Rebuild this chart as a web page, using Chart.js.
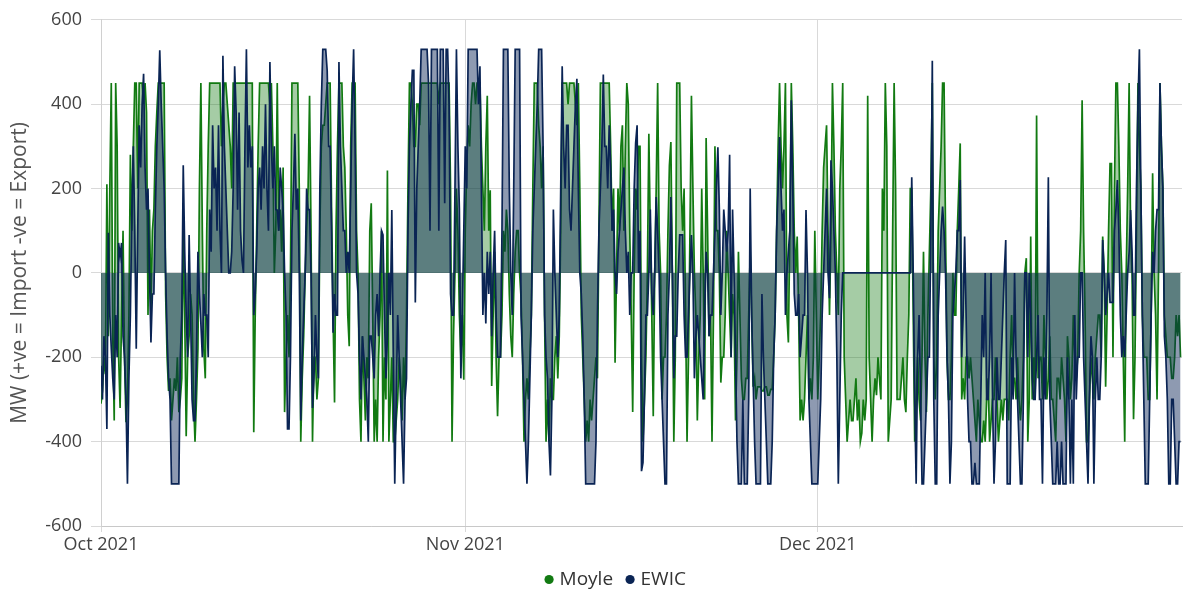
<!DOCTYPE html>
<html>
<head>
<meta charset="utf-8">
<script src="https://cdn.jsdelivr.net/npm/chart.js@4.4.1/dist/chart.umd.min.js"></script>
<style>
  html, body { margin: 0; padding: 0; background: #ffffff; }
  #wrap { width: 1186px; height: 594px; position: relative; }
</style>
</head>
<body>
<div id="wrap"><canvas id="flows" width="1186" height="594"></canvas></div>
<script>
// Interconnector flows in MW, eight readings per day (3-hourly) from 1 Oct 2021 00:00
const stepsPerDay = 8;
const monthTicks = [0, 31, 61];               // day offsets of the month starts
const monthLabels = ['Oct 2021', 'Nov 2021', 'Dec 2021'];
const yTicks = [-600, -400, -200, 0, 200, 400, 600];

// Moyle, one line per day
const moyleOct = [
  -310,-280,-200,-240,210,-150,200,450,
  -150,-350,450,300,-200,-320,-100,100,
  -200,-354,-300,-100,280,100,300,450,
  450,200,450,450,450,400,450,380,
  -100,150,-87,100,150,300,380,450,
  450,450,450,450,-50,-200,-280,-250,
  -350,-300,-250,-280,-200,-330,-300,-250,
  100,-100,-387,-200,-150,-50,-100,-300,
  -400,-300,-180,200,450,100,-180,-250,
  100,300,450,450,450,450,450,450,
  450,450,300,400,450,450,400,350,
  300,200,450,450,450,450,450,450,
  450,450,450,450,450,450,450,450,
  -378,-100,100,300,450,450,450,450,
  450,450,450,400,450,300,0,100,
  450,100,150,50,250,-330,-200,-100,
  -200,0,450,450,450,450,450,200,
  -400,-250,-150,0,100,200,420,100,
  -400,-200,-200,-300,-250,100,300,350,
  350,400,450,450,450,150,-100,-307,
  100,300,450,450,450,300,250,100,
  -100,-174,300,450,450,450,100,0,
  -300,-400,-150,-250,-350,-200,-250,100,
  165,-100,-400,-300,-400,-200,-100,100,
  -400,-200,-300,243,-400,-300,-200,-400,
  -400,-350,-300,-200,-250,-350,-200,-300,
  -100,200,450,450,400,300,300,400,
  400,350,450,450,450,450,450,450,
  450,450,450,450,450,450,400,450,
  450,450,450,450,450,450,200,-400,
  -150,0,200,100,-100,-200,-100,-253
];
const moyleNov = [
  100,250,350,300,400,450,450,400,
  450,450,450,300,200,100,300,420,
  100,196,-268,-100,50,-200,-340,-200,
  -200,-100,100,50,150,100,-50,-150,
  -200,-50,50,100,100,0,-60,-200,
  -400,-300,-250,-300,-200,-100,200,450,
  450,450,350,300,200,300,-100,-400,
  -300,-400,-250,-300,-300,-200,-150,-250,
  -150,100,450,450,450,450,400,450,
  450,450,450,400,350,450,200,-100,
  -200,-300,-400,-350,-400,-300,-350,-300,
  -250,-200,-250,100,450,450,450,450,
  450,450,450,300,100,200,-213,0,
  200,100,300,350,100,300,450,400,
  100,-100,-330,0,200,150,300,300,
  -200,-400,-300,-200,0,330,100,-100,
  -340,0,200,450,100,0,-300,-200,
  -200,-100,100,255,310,0,-400,-200,
  450,450,450,200,100,200,-100,-400,
  -200,100,420,200,0,-100,-350,-200,
  -100,200,0,-300,320,100,-150,-100,
  -400,-100,300,100,100,0,-260,-200,
  -200,-100,100,0,-100,-200,-50,-100,
  -350,-200,50,-100,-250,-300,-300,-250,
  -250,-100,50,-100,-270,-250,-300,-270,
  -270,-270,-280,-280,-270,-270,-290,-290,
  -276,-276,-200,-100,100,300,450,300,
  200,300,450,-100,-165,100,450,300,
  100,0,86,-100,-350,-300,-350,-300,
  -200,-100,-300,-250,-300,-200,100,-100
];
const moyleDec = [
  -300,-200,-100,100,250,300,350,100,
  -100,100,450,300,100,0,-100,200,
  300,450,-200,-300,-400,-350,-300,-350,
  -350,-300,-250,-350,-300,-400,-380,-300,
  -350,-300,420,-200,-300,-400,-300,-250,
  -290,-200,-250,-300,200,100,450,300,
  -400,-350,-300,100,450,200,-300,-300,
  -300,-250,-200,-300,-330,-200,-100,200,
  200,-100,-400,-300,-200,-300,-350,-200,
  50,-200,-330,-100,50,200,450,-200,
  -300,-200,100,200,300,450,450,100,
  -200,-300,-300,-200,0,-100,-100,100,
  200,307,-300,-250,-300,-200,-200,-250,
  -200,-250,-300,-350,-400,-300,-350,-400,
  -400,-350,-400,-300,-250,-400,-350,-300,
  -300,-200,-300,-400,-350,-300,-350,-300,
  -300,-300,-350,-200,-100,-250,-250,-300,
  -200,-300,-350,-300,-200,0,35,-400,
  -300,86,-300,-200,-300,373,-250,-200,
  -200,-300,-100,-200,-300,-250,-150,-300,
  -300,-350,-400,-250,-250,-300,-200,-250,
  -300,-400,-150,-200,-300,-250,-100,-200,
  -250,-200,0,100,409,100,-100,-400,
  -400,-300,-200,-250,-300,-200,-150,-100,
  -100,-200,86,0,-270,-100,100,259,
  259,-200,200,450,450,300,100,0,
  -200,-400,0,200,450,100,0,-347,
  -200,100,450,300,200,-100,-200,-200,
  -200,-300,-300,-100,236,0,-100,-300,
  0,450,300,200,-100,-150,-200,-200,
  -200,-250,-250,-200,-100,-150,-100,-200
];

// EWIC, one line per day
const ewicOct = [
  -220,-300,-150,-200,-370,95,-100,-180,
  -250,-300,-100,-200,71,40,71,-150,
  -200,-300,-500,-250,-100,150,300,100,
  -180,100,350,250,400,472,250,150,
  200,0,-165,-50,-50,150,300,400,
  528,400,300,200,0,-150,-250,-300,
  -500,-500,-500,-500,-500,-500,-200,-100,
  255,50,-100,-200,90,-100,-300,-350,
  -350,-200,50,-50,-120,-200,-50,-100,
  -100,-200,150,50,350,200,250,100,
  350,100,0,515,300,200,100,0,
  0,50,200,490,380,150,380,100,
  30,0,300,530,250,350,250,300,
  -100,-50,50,200,250,150,300,200,
  400,200,100,500,300,200,300,150,
  149,100,250,200,150,0,-100,-370,
  -370,-200,100,200,330,150,200,0,
  -350,-200,-100,0,200,150,150,0,
  -320,-250,-100,-200,-250,200,400,530,
  530,530,480,300,300,100,-142,-50,
  -100,-100,500,300,200,100,100,0,
  50,0,200,400,530,300,0,-50,
  -200,-300,-150,-200,-250,-300,-400,-150,
  -150,-200,-250,-100,-50,-150,0,100,
  90,-100,-250,-150,0,-100,149,-200,
  -500,-300,-100,-200,-300,-400,-500,-300,
  -250,100,300,400,480,480,-70,200,
  300,400,530,530,530,530,530,450,
  100,530,530,530,530,530,100,530,
  530,530,165,530,530,400,-50,-100,
  -100,200,530,300,150,-250,-100,100
];
const ewicNov = [
  300,200,530,530,530,530,530,530,
  530,400,490,200,-100,0,-120,50,
  -50,50,-150,0,100,-100,-200,-200,
  -200,100,530,530,530,530,200,0,
  -100,200,530,530,530,530,-100,-200,
  -300,-400,-500,-400,-250,-100,100,200,
  300,400,530,530,530,300,-100,-200,
  -250,-400,-480,-300,150,0,-100,-200,
  -100,200,490,300,200,350,350,150,
  100,200,300,400,460,200,0,-50,
  -150,-300,-500,-500,-500,-500,-500,-500,
  -500,-400,-100,100,200,300,470,300,
  300,200,350,250,100,150,0,-50,
  50,100,150,200,250,100,0,50,
  -100,0,0,200,307,350,0,100,
  -470,-450,-300,-100,-100,0,150,-50,
  -100,0,180,100,0,-200,-300,-400,
  -500,-500,-100,0,180,0,-250,-150,
  -150,0,90,90,90,-100,-200,-200,
  -100,0,90,0,-250,-150,-100,-150,
  -200,-250,-300,-100,50,0,-150,-100,
  -100,0,100,200,298,150,-100,0,
  150,100,50,100,280,-200,150,0,
  -200,-400,-500,-500,-500,-300,-500,-500,
  -500,-300,200,-100,-250,-400,-500,-500,
  -500,-500,-50,-200,-300,-400,-500,-500,
  -500,-400,-200,-100,100,200,322,200,
  100,150,-100,0,50,100,409,200,
  -50,-100,-100,-50,-200,-150,-100,-100,
  149,0,-300,-400,-500,-500,-500,-500
];
const ewicDec = [
  -500,-400,-300,-100,0,100,200,0,
  -60,267,200,100,0,-200,-500,-300,
  -100,0,0,0,0,0,0,0,
  0,0,0,0,0,0,0,0,
  0,0,0,0,0,0,0,0,
  0,0,0,0,0,0,0,0,
  0,0,0,0,0,0,0,0,
  0,0,0,0,0,0,0,0,
  227,0,-300,-500,-200,-100,-300,-500,
  -500,-400,-300,-200,-200,100,503,-300,
  -500,-500,-100,0,100,157,100,0,
  -200,-300,-500,-400,-100,-50,0,100,
  100,220,-200,-100,86,-100,-300,-400,
  -400,-500,-500,-450,-500,-500,-500,-300,
  -100,-200,0,-300,-300,-200,0,-300,
  -500,-400,-200,-300,-300,-200,-100,0,
  78,-500,-500,-500,-200,-300,0,-200,
  -300,-400,-500,-500,-300,0,0,-200,
  0,-100,-250,-300,-300,-200,-100,-300,
  -300,-500,-200,-300,-100,227,-300,-400,
  -500,-500,-500,-400,-500,-500,-400,-500,
  -500,-500,-200,-300,-500,-300,-500,-100,
  -300,-200,-200,0,0,-200,-300,-400,
  -500,-300,-150,-200,-500,-300,-200,-300,
  -300,-200,78,0,-100,-50,0,-70,
  -70,-70,100,150,220,100,-100,-200,
  -150,-200,-100,0,50,149,50,-100,
  -100,200,400,530,200,-100,-300,-500,
  -500,-500,-300,-100,50,0,100,150,
  150,450,300,200,-150,-200,-300,-500,
  -500,-300,-300,-400,-500,-500,-400,-400
];

function toPoints(parts) {
  const vals = [].concat(...parts);
  return vals.map((v, i) => ({ x: i / stepsPerDay, y: v }));
}

const FONT = "'Open Sans', 'Noto Sans', sans-serif";

// nudges the legend row to the right of the canvas centre
const legendOffset = {
  id: 'legendOffset',
  afterLayout(chart) {
    chart.legend.left += 26;
    chart.legend.right += 26;
  }
};

new Chart(document.getElementById('flows'), {
  type: 'line',
  data: {
    datasets: [
      {
        label: 'Moyle',
        data: toPoints([moyleOct, moyleNov, moyleDec]),
        borderColor: '#127a12',
        backgroundColor: 'rgba(18,122,18,0.38)',
        fill: 'origin',
        borderWidth: 1.7,
        pointRadius: 0,
        tension: 0,
        order: 2
      },
      {
        label: 'EWIC',
        data: toPoints([ewicOct, ewicNov, ewicDec]),
        borderColor: '#0a2454',
        backgroundColor: 'rgba(4,32,82,0.45)',
        fill: 'origin',
        borderWidth: 1.7,
        pointRadius: 0,
        tension: 0,
        order: 1
      }
    ]
  },
  plugins: [legendOffset],
  options: {
    responsive: false,
    animation: false,
    layout: { padding: { left: 0, right: 4, top: 14, bottom: -5 } },
    scales: {
      x: {
        type: 'linear',
        min: 0,
        max: 92,
        afterBuildTicks: (s) => { s.ticks = monthTicks.map(v => ({ value: v })); },
        afterFit: (s) => { s.height = 28; },
        ticks: {
          autoSkip: false,
          maxRotation: 0,
          padding: 2,
          color: '#444444',
          font: { family: FONT, size: 18 },
          callback: (v) => monthLabels[monthTicks.indexOf(v)]
        },
        grid: { color: '#d9d9d9', lineWidth: 1, tickLength: 6 },
        border: { color: '#c8c8c8' }
      },
      y: {
        min: -600,
        max: 600,
        afterBuildTicks: (s) => { s.ticks = yTicks.map(v => ({ value: v })); },
        afterFit: (s) => { s.width = 101; },
        ticks: {
          color: '#444444',
          font: { family: FONT, size: 18 },
          padding: 9
        },
        grid: { color: '#d9d9d9', lineWidth: 1, tickLength: 10 },
        border: { color: '#d0d0d0' },
        title: {
          display: true,
          text: 'MW (+ve = Import -ve = Export)',
          color: '#555555',
          font: { family: FONT, size: 21 },
          padding: { top: 7, bottom: 0 }
        }
      }
    },
    plugins: {
      tooltip: { enabled: false },
      legend: {
        position: 'bottom',
        labels: {
          usePointStyle: true,
          pointStyle: 'circle',
          boxWidth: 2,
          boxHeight: 6.5,
          padding: 16,
          color: '#333333',
          font: { family: FONT, size: 19 },
          sort: (a, b) => a.datasetIndex - b.datasetIndex,
          generateLabels: (chart) => {
            const items = Chart.defaults.plugins.legend.labels.generateLabels(chart);
            items.forEach(it => { it.fillStyle = it.strokeStyle; it.lineWidth = 0; });
            return items;
          }
        }
      }
    }
  }
});
</script>
</body>
</html>
